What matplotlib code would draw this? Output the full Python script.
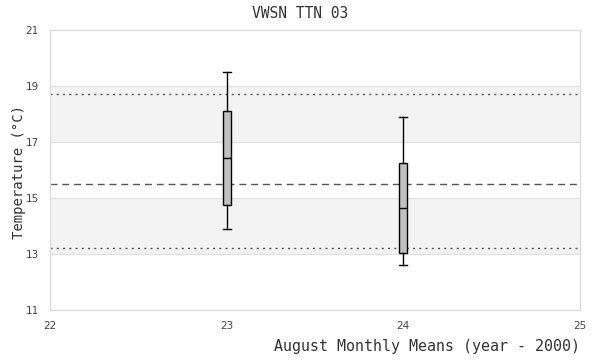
import matplotlib
matplotlib.use("Agg")
import matplotlib.pyplot as plt

# Data
years = [23, 24]
whislo = [13.88, 12.60]
q1 = [14.74, 13.02]
med = [16.42, 14.63]
q3 = [18.12, 16.24]
whishi = [19.50, 17.88]
mean_line = 15.49
upper_line = 18.71
lower_line = 13.20
band_ranges = [(13, 15), (17, 19)]
yticks = [11, 13, 15, 17, 19, 21]
xticks = [22, 23, 24, 25]

fig = plt.figure(figsize=(6, 3.6), dpi=100)
ax = fig.add_axes([50/600, 1-310/360, 530/600, 280/360])

for lo, hi in band_ranges:
    ax.axhspan(lo, hi, color="#f3f3f3", zorder=0, lw=0)
for y in yticks[1:-1]:
    ax.axhline(y, color="#e2e2e2", lw=1, zorder=0.5)

ax.axhline(upper_line, color="#555555", lw=1, ls=(0, (1.5, 3)), zorder=1)
ax.axhline(lower_line, color="#555555", lw=1, ls=(0, (1.5, 3)), zorder=1)
ax.axhline(mean_line, color="#555555", lw=1, ls=(0, (5, 3.5)), zorder=1)

stats = []
for i in range(len(years)):
    stats.append(dict(whislo=whislo[i], q1=q1[i], med=med[i], q3=q3[i],
                      whishi=whishi[i], fliers=[]))
ax.bxp(stats, positions=years, widths=0.045, showfliers=False, patch_artist=True,
       boxprops=dict(facecolor="#c0c0c0", edgecolor="black", lw=1),
       medianprops=dict(color="black", lw=1),
       whiskerprops=dict(color="black", lw=1),
       capprops=dict(color="black", lw=1),
       capwidths=0.045, zorder=3)

ax.set_xlim(22, 25)
ax.set_ylim(11, 21)
ax.set_xticks(xticks)
ax.set_xticklabels([str(x) for x in xticks])
ax.set_yticks(yticks)
ax.set_yticklabels([str(y) for y in yticks])
ax.tick_params(length=0, labelsize=7.5, labelcolor="#444444", pad=8)
for s in ax.spines.values():
    s.set_color("#dddddd")
    s.set_linewidth(1)

mono = "DejaVu Sans Mono"
fig.text(300/600, 1-14/360, "VWSN TTN 03", family=mono, fontsize=10.5,
         color="#333333", ha="center", va="center")
fig.text(19/600, 1-172/360, "Temperature (°C)", family=mono, fontsize=10,
         color="#333333", ha="center", va="center", rotation=90)
fig.text(580/600, 1-347/360, "August Monthly Means (year - 2000)", family=mono,
         fontsize=10.8, color="#333333", ha="right", va="center")

fig.savefig("out.png", dpi=100)
